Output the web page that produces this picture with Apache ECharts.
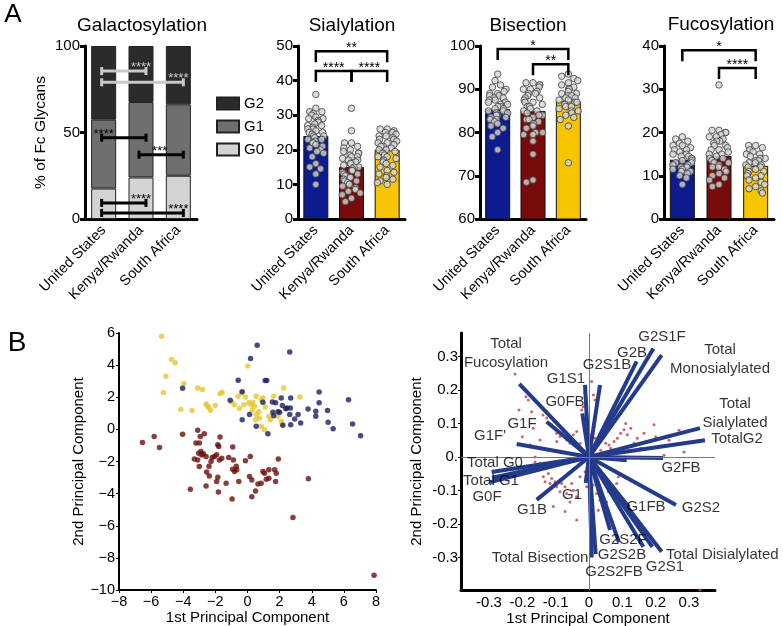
<!DOCTYPE html>
<html><head><meta charset="utf-8">
<script src="https://cdn.jsdelivr.net/npm/echarts@6/dist/echarts.min.js"></script>
<style>html,body{margin:0;padding:0;background:#fff}#c{width:783px;height:626px}</style>
</head><body><div id="c"></div>
<script>
const FONT = '"Liberation Sans", Arial, sans-serif';
const TXT = '#000';

// ---------- Panel A data ----------
const groups = ['United States', 'Kenya/Rwanda', 'South Africa'];
const galG0 = [17.6, 24, 25];
const galG1 = [39.8, 43.6, 41.3];
const galG2 = [42.6, 32.4, 33.7];
const galSigLight = [[0, 1, 85.5, '****', 1], [0, 2, 79, '****', 2]];
const galSigDark = [[0, 1, 47, '****', 0], [1, 2, 37.2, '***', 1.5], [0, 1, 9.3, '****', 1], [0, 2, 3.5, '****', 2]];

const sialMeans = [24, 15, 20];
const sialUS = [36,32,31,31,30.5,30,29.5,29,29,28.5,28,28,27.5,27,27,26.5,26,26,25.5,25,25,24.5,24,24,23.5,23,23,22.5,22,22,21.5,21,20.5,20,19.5,19,18,16,15,14.5,13,10];
const sialKR = [32,25.5,22,22,21,20.5,20,19.5,19,19,18.5,18,18,17.5,17,17,16.5,16,16,15.5,15,15,14.5,14,14,13.5,13,13,12.5,12,12,11.5,11,11,10.5,10,9.5,9,8.5,8,7.5,7,6,5];
const sialSA = [26,26,25.5,25,25,24.5,24,24,23.5,23,23,22.5,22,22,21.5,21,21,20.5,20,20,19.5,19,18.5,18,18,17.5,17,16.5,16,15.5,15,14,13.5,13,12.5,12,11.5,11,10.5,10];
const sialSig = [[0, 2, 48.5, '**'], [0, 1, 42.8, '****'], [1, 2, 42.8, '****']];

const bisMeans = [85.4, 85, 87.2];
const bisUS = [93.5,92,91,90.5,90,89.5,89,89,88.5,88.5,88,88,87.5,87.5,87,87,86.5,86.5,86,86,85.5,85.5,85,85,84.5,84.5,84,84,83.5,83.5,83,83,82.5,82,81.5,81,80,79,76];
const bisKR = [91.5,91.5,91,91,90.5,90,90,89.5,89,89,88.5,88,88,87.5,87,87,86.5,86,86,85.5,85,85,84.5,84,84,83.5,83,83,82.5,82,81.5,81,80,80,79.5,79.5,78,75,69,68.5];
const bisSA = [93.5,93,92.5,92,91.5,91,90.5,90,90,89.5,89,89,88.5,88.5,88,88,87.5,87.5,87,87,86.5,86,86,85.5,85,85,84.5,84,83.5,83,81.5,73];
const bisSig = [[0, 2, 99.3, '*'], [1, 2, 95.8, '**']];

const fucMeans = [13.7, 14.6, 12.3];
const fucUS = [19,18.5,18,17.5,17,17,16.5,16,16,15.5,15,15,14.5,14.5,14,14,13.5,13.5,13,13,12.5,12.5,12,12,11.5,11.5,11,11,10.5,10,9.5,8];
const fucKR = [31,20.5,20.5,20,20,19.5,19,19,18.5,18,18,17.5,17,17,16.5,16,16,15.5,15,15,14.5,14,14,13.5,13,13,12.5,12,12,11.5,11,10.5,10,9.5,9,8,7.5];
const fucSA = [17,17,16.5,16,15.5,15,15,14.5,14,14,13.5,13.5,13,13,12.5,12.5,12,12,11.5,11,11,10.5,10,10,9.5,9,8.5,8,7.5,7,6.5,6];
const fucSig = [[0, 2, 39, '*'], [1, 2, 34.9, '****']];

// ---------- Panel B data ----------
const pcaUS = [[0.6,5.23],[0.19,4.42],[2.63,4.81],[-0.58,3.06],[1.1,3.04],[1.2,3.05],[-4.04,2.56],[-1.08,1.81],[-0.33,2.35],[-0.33,0.6],[0.13,0.92],[0.96,1.69],[0.54,0.19],[1.27,-0.27],[1.63,0.85],[1.75,1.65],[2.0,1.06],[2.1,1.96],[2.17,1.48],[2.38,1.29],[2.46,1.33],[2.69,1.96],[2.67,1.33],[2.63,0.92],[2.69,0.29],[2.94,0.65],[3.15,0.92],[3.31,0.4],[3.77,1.27],[4.25,1.13],[4.25,0.81],[4.46,2.33],[4.46,1.65],[4.98,1.17],[5.02,0.44],[5.33,0.04],[6.29,1.85],[6.54,0.33],[7.04,-0.4],[1.58,1.06],[2.2,0.25],[1.9,1.1],[1.55,1.7]];
const pcaSA = [[-5.35,5.8],[-4.73,4.35],[-4.5,4.15],[-5.08,3.3],[-5.23,2.3],[-3.96,2.85],[-4.15,1.23],[-3.46,1.17],[-3.1,2.58],[-2.8,2.48],[-2.58,1.58],[-2.42,1.38],[-2.31,1.19],[-2.0,1.48],[-2.5,1.45],[-1.71,2.23],[-1.58,2.31],[-0.58,2.06],[-0.38,2.27],[-0.13,2.02],[0.02,3.94],[0.08,1.65],[0.23,1.54],[0.33,1.69],[0.44,1.44],[0.54,2.06],[0.85,1.85],[0.96,1.96],[0.54,0.92],[0.75,0.71],[0.85,0.19],[1.06,-0.02],[1.33,0.81],[1.42,0.6],[1.63,2.06],[1.9,0.81],[2.1,0.5],[2.17,0.29],[2.25,2.58],[3.25,2.02],[-0.81,1.54],[-0.23,1.54],[0.5,0.6],[1.1,1.4],[-1.0,1.7],[0.3,1.2],[0.7,1.1],[-0.5,1.3]];
const pcaKR = [[-6.54,-0.81],[-5.81,-0.44],[-5.48,-1.13],[-4.04,-0.31],[-3.56,-3.73],[-3.1,-0.06],[-2.94,-0.44],[-3.21,-0.85],[-3.0,-0.85],[-2.69,-0.27],[-3.31,-1.85],[-3.04,-1.48],[-2.9,-1.38],[-2.75,-1.52],[-2.58,-1.69],[-3.0,-2.31],[-3.1,-1.9],[-2.54,-2.65],[-2.38,-2.9],[-2.58,-3.52],[-2.27,-2.0],[-2.06,-1.69],[-1.92,-1.58],[-1.85,-0.96],[-1.79,-1.06],[-1.71,-0.48],[-1.75,-1.9],[-1.85,-2.98],[-1.92,-3.25],[-1.81,-3.9],[-1.33,-3.35],[-1.17,-1.75],[-0.92,-1.1],[-0.88,-1.9],[-0.92,-2.48],[-0.81,-2.63],[-0.67,-2.52],[-0.96,-4.33],[-0.54,-3.25],[-0.13,-1.96],[0.17,-1.69],[0.13,-2.94],[0.27,-3.15],[0.27,-4.19],[0.5,-3.83],[0.65,-3.4],[0.85,-3.35],[0.96,-2.63],[1.06,-2.73],[1.17,-3.1],[1.33,-3.04],[1.33,-2.52],[1.69,-2.52],[1.79,-2.73],[1.75,-3.25],[1.92,-1.85],[3.79,-3.08],[2.83,-5.48],[7.88,-9.08],[-2.2,-1.75],[-2.4,-2.3],[-1.6,-1.8],[-2.85,-1.6],[-0.7,-2.3]];

const biplotScores = [[-0.222,0.248],[-0.189,0.18],[-0.182,0.17],[-0.21,0.14],[-0.172,0.135],[-0.167,0.086],[-0.138,0.125],[-0.127,0.116],[-0.112,0.096],[-0.102,0.086],[-0.097,0.071],[-0.087,0.061],[-0.077,0.076],[-0.067,0.051],[-0.057,0.041],[-0.047,0.066],[-0.037,0.076],[-0.027,0.041],[-0.022,0.14],[-0.017,0.15],[-0.012,0.19],[0.008,0.225],[0.013,0.185],[0.018,0.17],[-0.002,0.086],[0.008,0.066],[0.018,0.056],[0.033,0.071],[0.042,0.061],[0.05,0.041],[0.06,0.036],[0.065,0.026],[0.075,0.046],[0.085,0.056],[0.095,0.071],[0.105,0.081],[0.115,0.066],[0.125,0.086],[0.135,0.041],[0.145,0.056],[0.155,0.026],[0.165,0.071],[0.18,0.026],[0.195,0.096],[0.225,0.005],[0.27,0.08],[0.285,0.015],[0.055,0.011],[0.075,0.011],[0.095,0.016],[0.035,0.02],[-0.177,0.036],[-0.147,0.051],[-0.097,0.046],[-0.117,0.021],[-0.162,0.0],[-0.147,-0.019],[-0.127,-0.029],[-0.137,-0.059],[-0.122,-0.049],[-0.112,-0.064],[-0.132,-0.074],[-0.117,-0.079],[-0.102,-0.074],[-0.097,-0.089],[-0.082,-0.079],[-0.072,-0.089],[-0.087,-0.104],[-0.067,-0.109],[-0.052,-0.079],[-0.047,-0.099],[-0.037,-0.119],[-0.057,-0.134],[-0.072,-0.163],[-0.037,-0.188],[-0.107,-0.148],[-0.162,-0.015],[-0.027,-0.059],[-0.012,-0.044],[-0.002,-0.069],[-0.007,-0.089],[0.013,-0.084],[0.023,-0.109],[0.033,-0.129],[0.043,-0.149],[0.053,-0.134],[0.008,-0.119],[0.028,-0.159],[0.073,-0.089],[0.083,-0.079],[0.088,-0.059],[0.043,-0.069],[0.058,-0.104],[0.333,-0.397],[-0.187,-0.027],[0.11,0.1],[0.2,0.06],[0.24,0.05],[-0.2,0.06],[0.06,0.12],[0.12,0.02]];

const loadingNames = ['Total\nFucosylation','G1S1','G2S1B','G0FB','G2B','G2S1F','Total\nMonosialylated','G1F',"G1F'",'Total\nSialylated','TotalG2','G2FB','Total G0','Total G1','G0F','G1B','G1','G1FB','G2S2','G2S2F','G2S2B','Total Bisection','G2S2FB','G2S1','Total Disialylated','',''];
const loadingX = [-0.209,-0.012,0.033,-0.02,0.143,0.193,0.218,-0.127,-0.217,0.333,0.348,0.222,-0.292,-0.29,-0.297,-0.157,-0.01,0.12,0.261,0.063,0.02,0.008,0.09,0.163,0.218,0.113,0.19];
const loadingY = [0.218,0.215,0.215,0.13,0.285,0.324,0.304,0.105,0.039,0.086,0.05,-0.003,-0.045,-0.062,-0.075,-0.128,-0.078,-0.15,-0.143,-0.218,-0.29,-0.3,-0.255,-0.268,-0.283,-0.01,-0.268];
const loadingLabelAt = [[-0.249,0.31],[-0.069,0.233],[0.054,0.275],[-0.072,0.164],[0.129,0.31],[0.219,0.358],[0.393,0.29],[-0.201,0.099],[-0.297,0.063],[0.438,0.131],[0.444,0.054],[0.276,-0.033],[-0.282,-0.018],[-0.294,-0.072],[-0.306,-0.119],[-0.171,-0.158],[-0.051,-0.113],[0.171,-0.149],[0.336,-0.152],[0.102,-0.248],[0.099,-0.293],[-0.147,-0.301],[0.075,-0.343],[0.228,-0.328],[0.40,-0.293],null,null];

// ---------- styles ----------
const groupColors = ['#0c1b8e', '#780b0b', '#f6c500'];
const pcaColors = { us: '#1b1f62', kr: '#6b0c0c', sa: '#e6c62c' };

const chart = echarts.init(document.getElementById('c'));

function catAxis(gi) {
  return {
    type: 'category', gridIndex: gi, data: groups, boundaryGap: true,
    jitter: 20, jitterOverlap: false, jitterMargin: 0.5,
    axisLine: { lineStyle: { color: '#000', width: 3 } },
    axisTick: { alignWithLabel: true, length: 6, lineStyle: { width: 3, color: '#000' } },
    axisLabel: { rotate: 45, fontSize: 14.5, color: TXT, fontFamily: FONT, margin: 9, interval: 0 },
    splitLine: { show: false }
  };
}
function valAxisA(gi, min, max, interval, extra) {
  return Object.assign({
    type: 'value', gridIndex: gi, min, max, interval,
    axisLine: { show: true, onZero: false, lineStyle: { color: '#000', width: 3 } },
    axisTick: { show: true, length: 5, lineStyle: { width: 3, color: '#000' } },
    axisLabel: { fontSize: 15, color: TXT, fontFamily: FONT, margin: 5 },
    splitLine: { show: false }
  }, extra || {});
}

function bracketRender(arr) {
  return function (params, api) {
    const d = arr[params.dataIndex];
    const a = api.coord([d[0], d[2]]), b = api.coord([d[1], d[2]]);
    const y = a[1], drop = 11;
    return {
      type: 'group', children: [
        { type: 'polyline', shape: { points: [[a[0], y + drop], [a[0], y], [b[0], y], [b[0], y + drop]] },
          style: { stroke: '#000', lineWidth: 2.5, fill: null } },
        { type: 'text', x: (a[0] + b[0]) / 2, y: y + 4,
          style: { text: d[3], textAlign: 'center', textVerticalAlign: 'bottom', font: '14px ' + FONT, fill: '#000' } }
      ]
    };
  };
}
function galRender(arr, color) {
  return function (params, api) {
    const d = arr[params.dataIndex];
    const a = api.coord([d[0], d[2]]), b = api.coord([d[1], d[2]]);
    const x1 = a[0] - 2, x2 = b[0] + 5, y = a[1];
    const ti = Math.floor(d[4]), tf = d[4] - ti;
    const ta = api.coord([ti, d[2]])[0];
    const tb = tf > 0 ? api.coord([ti + 1, d[2]])[0] : ta;
    const tx = ta + (tb - ta) * tf;
    const st = { stroke: color, lineWidth: 3 };
    return {
      type: 'group', children: [
        { type: 'line', shape: { x1: x1, y1: y, x2: x2, y2: y }, style: st },
        { type: 'line', shape: { x1: x1, y1: y - 4, x2: x1, y2: y + 4 }, style: st },
        { type: 'line', shape: { x1: x2, y1: y - 4, x2: x2, y2: y + 4 }, style: st },
        { type: 'text', x: tx, y: y + 3,
          style: { text: d[3], textAlign: 'center', textVerticalAlign: 'bottom', font: '13px ' + FONT, fill: color } }
      ]
    };
  };
}
function swarm(us, kr, sa) {
  return [].concat(us.map(v => [0, v]), kr.map(v => [1, v]), sa.map(v => [2, v]));
}
const dotStyle = { color: '#d4d4d4', borderColor: '#3c3c3c', borderWidth: 1 };
function barSeries(gi, vals) {
  return { type: 'bar', xAxisIndex: gi, yAxisIndex: gi, data: vals, barWidth: 25,
    itemStyle: { color: p => groupColors[p.dataIndex], borderColor: '#111', borderWidth: 1 } };
}
function dotSeries(gi, data) {
  return { type: 'scatter', xAxisIndex: gi, yAxisIndex: gi, data: data, symbolSize: 6.5,
    itemStyle: dotStyle, z: 5 };
}
function sigSeries(gi, arr, render) {
  return { type: 'custom', xAxisIndex: gi, yAxisIndex: gi, data: arr.map(d => [d[0], d[2]]),
    renderItem: render, z: 10, clip: false, silent: true };
}

const minus = v => String(v).replace('-', '\u2212');
const ticks01 = [-0.3, -0.2, -0.1, 0, 0.1, 0.2, 0.3];

function pcaAxis(extra) {
  return Object.assign({
    type: 'value', nameLocation: 'middle',
    axisLine: { show: true, onZero: false, lineStyle: { color: '#000', width: 2 } },
    axisTick: { show: true, length: 3, lineStyle: { color: '#000', width: 1 } },
    splitLine: { show: false },
    nameTextStyle: { fontSize: 15, color: TXT, fontFamily: FONT }
  }, extra);
}

const option = {
  animation: false,
  backgroundColor: '#fff',
  textStyle: { fontFamily: FONT },
  grid: [
    { left: 85, top: 46, width: 112, height: 173, outerBoundsMode: 'none' },
    { left: 298, top: 46, width: 107, height: 173, outerBoundsMode: 'none' },
    { left: 480, top: 46, width: 106, height: 173, outerBoundsMode: 'none' },
    { left: 664, top: 46, width: 110, height: 173, outerBoundsMode: 'none' },
    { left: 119, top: 333, width: 257, height: 257, outerBoundsMode: 'none' },
    { left: 461, top: 333, width: 254, height: 257, outerBoundsMode: 'none' }
  ],
  legend: {
    data: ['G2', 'G1', 'G0'], orient: 'vertical', left: 211, top: 91,
    itemWidth: 22, itemHeight: 12, itemGap: 8, selectedMode: false, icon: 'rect',
    textStyle: { fontSize: 15, color: TXT, fontFamily: FONT }
  },
  xAxis: [
    catAxis(0), catAxis(1), catAxis(2), catAxis(3),
    pcaAxis({ gridIndex: 4, min: -8, max: 8, interval: 2,
      name: '1st Principal Component', nameGap: 19,
      axisLabel: { fontSize: 14.5, color: TXT, fontFamily: FONT, formatter: minus, margin: 4 } }),
    pcaAxis({ gridIndex: 5, min: -0.384, max: 0.378,
      name: '1st Principal Component', nameGap: 19,
      axisLine: { show: true, onZero: false, lineStyle: { color: '#000', width: 3 } },
      axisTick: { show: false },
      axisLabel: { fontSize: 15, color: TXT, fontFamily: FONT, margin: 5, customValues: ticks01,
        formatter: v => (Math.abs(v) < 1e-9 ? '0' : Number(v).toFixed(1)) } })
  ],
  yAxis: [
    valAxisA(0, 0, 100, 50, { name: '% of Fc Glycans', nameLocation: 'middle', nameGap: 36,
      nameTextStyle: { fontSize: 15.5, color: TXT, fontFamily: FONT } }),
    valAxisA(1, 0, 50, 10),
    valAxisA(2, 60, 100, 10),
    valAxisA(3, 0, 40, 10),
    pcaAxis({ gridIndex: 4, min: -10, max: 6, interval: 2,
      name: '2nd Principal Component', nameGap: 30,
      axisLabel: { fontSize: 14.5, color: TXT, fontFamily: FONT, formatter: minus, margin: 4 } }),
    pcaAxis({ gridIndex: 5, min: -0.397, max: 0.37,
      name: '2nd Principal Component', nameGap: 37,
      axisLine: { show: true, onZero: false, lineStyle: { color: '#000', width: 3 } },
      axisTick: { show: true, length: 3, customValues: ticks01, lineStyle: { color: '#000', width: 1 } },
      axisLabel: { fontSize: 15, color: TXT, fontFamily: FONT, margin: 3, customValues: ticks01,
        formatter: v => (Math.abs(v) < 1e-9 ? '0.' : Number(v).toFixed(1)) } })
  ],
  graphic: [
    { type: 'text', x: 13, y: 15, style: { text: 'A', font: '26px ' + FONT, fill: '#000', textAlign: 'center', textVerticalAlign: 'middle' } },
    { type: 'text', x: 17, y: 343, style: { text: 'B', font: '28px ' + FONT, fill: '#000', textAlign: 'center', textVerticalAlign: 'middle' } },
    { type: 'text', x: 142, y: 26, style: { text: 'Galactosylation', font: '19px ' + FONT, fill: TXT, textAlign: 'center', textVerticalAlign: 'middle' } },
    { type: 'text', x: 352, y: 26, style: { text: 'Sialylation', font: '19px ' + FONT, fill: TXT, textAlign: 'center', textVerticalAlign: 'middle' } },
    { type: 'text', x: 528, y: 26, style: { text: 'Bisection', font: '19px ' + FONT, fill: TXT, textAlign: 'center', textVerticalAlign: 'middle' } },
    { type: 'text', x: 721, y: 25, style: { text: 'Fucosylation', font: '19px ' + FONT, fill: TXT, textAlign: 'center', textVerticalAlign: 'middle' } }
  ],
  series: [
    // Galactosylation
    { name: 'G0', type: 'bar', stack: 'gal', xAxisIndex: 0, yAxisIndex: 0, data: galG0, barWidth: 25,
      itemStyle: { color: '#d3d3d3', borderColor: '#222', borderWidth: 1 } },
    { name: 'G1', type: 'bar', stack: 'gal', xAxisIndex: 0, yAxisIndex: 0, data: galG1, barWidth: 25,
      itemStyle: { color: '#6f6f6f', borderColor: '#222', borderWidth: 1 } },
    { name: 'G2', type: 'bar', stack: 'gal', xAxisIndex: 0, yAxisIndex: 0, data: galG2, barWidth: 25,
      itemStyle: { color: '#2b2b2b', borderColor: '#222', borderWidth: 1 } },
    sigSeries(0, galSigLight, galRender(galSigLight, '#c8c8c8')),
    sigSeries(0, galSigDark, galRender(galSigDark, '#000')),
    // Sialylation
    barSeries(1, sialMeans), dotSeries(1, swarm(sialUS, sialKR, sialSA)), sigSeries(1, sialSig, bracketRender(sialSig)),
    // Bisection
    barSeries(2, bisMeans), dotSeries(2, swarm(bisUS, bisKR, bisSA)), sigSeries(2, bisSig, bracketRender(bisSig)),
    // Fucosylation
    barSeries(3, fucMeans), dotSeries(3, swarm(fucUS, fucKR, fucSA)), sigSeries(3, fucSig, bracketRender(fucSig)),
    // PCA scores
    { type: 'scatter', xAxisIndex: 4, yAxisIndex: 4, data: pcaSA, symbolSize: 5.5, itemStyle: { color: pcaColors.sa } },
    { type: 'scatter', xAxisIndex: 4, yAxisIndex: 4, data: pcaUS, symbolSize: 5.5, itemStyle: { color: pcaColors.us } },
    { type: 'scatter', xAxisIndex: 4, yAxisIndex: 4, data: pcaKR, symbolSize: 5.5, itemStyle: { color: pcaColors.kr } },
    // Biplot
    { type: 'scatter', xAxisIndex: 5, yAxisIndex: 5, data: biplotScores, symbolSize: 3, clip: false,
      itemStyle: { color: '#c8454a', opacity: 0.85 },
      markLine: { silent: true, symbol: 'none', label: { show: false },
        lineStyle: { color: '#777', width: 1, type: 'solid' },
        data: [{ xAxis: 0 }, { yAxis: 0 }] } },
    { type: 'lines', coordinateSystem: 'cartesian2d', xAxisIndex: 5, yAxisIndex: 5, z: 4,
      data: loadingX.map((x, i) => ({ coords: [[0, 0], [x, loadingY[i]]] })),
      lineStyle: { color: '#243b8c', width: 4, opacity: 1 } },
    { type: 'scatter', xAxisIndex: 5, yAxisIndex: 5, symbolSize: 0, clip: false, z: 6, silent: true,
      data: loadingLabelAt.map((p, i) => p ? { value: p, name: loadingNames[i] } : null).filter(Boolean),
      label: { show: true, position: 'inside', formatter: p => p.name, fontSize: 15, lineHeight: 19,
        color: TXT, fontFamily: FONT, align: 'center', verticalAlign: 'middle' } }
  ]
};
chart.setOption(option);
</script>
</body></html>
